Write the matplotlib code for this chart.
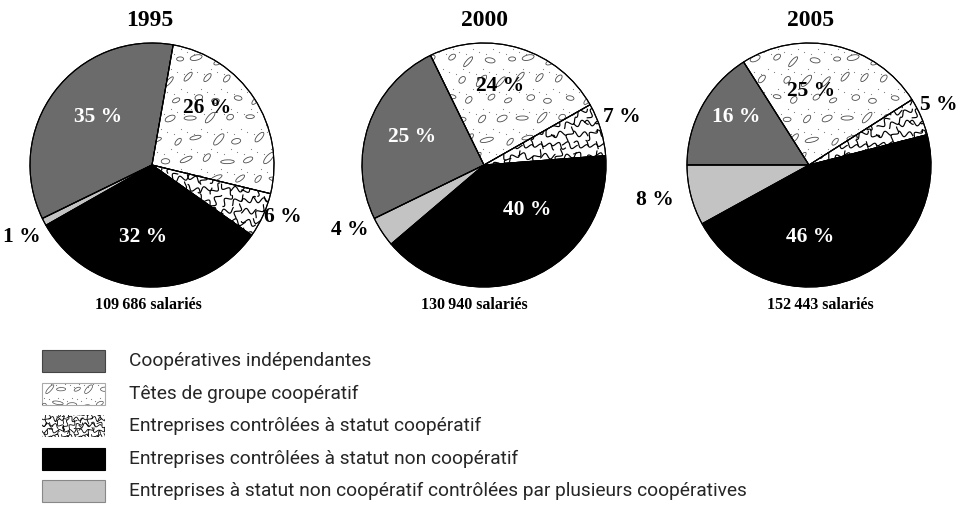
import numpy as np
import matplotlib
matplotlib.use("Agg")
import matplotlib.pyplot as plt
from matplotlib.patches import Ellipse, Polygon, Wedge
from matplotlib.collections import PatchCollection, LineCollection

# ---------------- data ----------------
years = ["1995", "2000", "2005"]
totals = ["109\u2009686 salariés", "130\u2009940 salariés", "152\u2009443 salariés"]
categories = [
    "Coopératives indépendantes",
    "Têtes de groupe coopératif",
    "Entreprises contrôlées à statut coopératif",
    "Entreprises contrôlées à statut non coopératif",
    "Entreprises à statut non coopératif contrôlées par plusieurs coopératives",
]
shares_1995 = [35, 26, 6, 32, 1]
shares_2000 = [25, 24, 7, 40, 4]
shares_2005 = [16, 25, 5, 46, 8]
shares = [shares_1995, shares_2000, shares_2005]

# ---------------- layout / style ----------------
W, H = 966, 505
R = 122
centers = [(152, 165), (484, 165), (809, 165)]
startangles = [206, 206, 180]
title_x = [150, 485, 811]
total_x = [148, 474, 820]
# label positions in units of the radius (x right, y up), per pie, per category
label_pos = [
    [(-0.44, 0.39), (0.45, 0.47), (1.07, -0.43), (-0.07, -0.59), (-1.07, -0.59)],
    [(-0.59, 0.23), (0.13, 0.65), (1.13, 0.39), (0.35, -0.37), (-1.10, -0.53)],
    [(-0.60, 0.39), (0.02, 0.61), (1.06, 0.49), (0.01, -0.59), (-1.26, -0.29)],
]
colors = ["#6b6b6b", "white", "white", "black", "#c3c3c3"]
label_colors = ["white", "black", "black", "white", "black"]
SERIF = "Liberation Serif"

fig = plt.figure(figsize=(W / 100, H / 100), dpi=100)


def hashf(a, b, m):
    return ((a * 7919 + b * 104729 + a * b * 31) % m) / m


def ellipse_pattern(ax, clip, x0, x1, y0, y1, s, zorder=2, step=20, lw=0.6, margin=0.0, scale=1.0):
    ells, dots = [], []
    ys = np.arange(y0 + margin, y1 - margin + 1e-9, step * s)
    xs = np.arange(x0 + margin, x1 - margin + 1e-9, step * s)
    for r_, y in enumerate(ys):
        for c_, x in enumerate(xs):
            off = step * s * 0.5 if r_ % 2 else 0.0
            h = hashf(r_, c_, 11)
            g = hashf(c_ + 3, r_ + 5, 7)
            jx = (hashf(r_ + 1, c_ + 2, 9) - 0.5) * 6 * s * scale
            jy = (hashf(r_ + 4, c_ + 1, 13) - 0.5) * 6 * s * scale
            w = (7 + 8 * h) * s * scale
            hh = (3.8 + 2.0 * g) * s * scale
            ang = -10 + 70 * hashf(r_ + 2, c_ + 7, 6)
            cx_, cy_ = x + off + jx, y + jy
            ells.append(Ellipse((cx_, cy_), w, hh, angle=ang))
            for dd in range(3):
                dots.append((x + off + step * s * (0.15 + 0.33 * dd),
                             y + step * s * (0.5 - 0.12 * dd)))
    pc = PatchCollection(ells, facecolor="none", edgecolor="#4a4a4a", linewidth=lw, zorder=zorder)
    pc.set_clip_path(clip)
    ax.add_collection(pc)
    dots = np.array(dots)
    sc = ax.scatter(dots[:, 0], dots[:, 1], s=0.7, color="#7a7a7a", linewidths=0, zorder=zorder)
    sc.set_clip_path(clip)


def wave_pattern(ax, clip, x0, x1, y0, y1, s, zorder=2, step=11, lw=0.85, margin=0.0, scale=1.0):
    segs = []
    t = np.linspace(0, 1, 30)
    L = 15.0 * scale
    ys = np.arange(y0 + margin - step * s, y1 - margin + step * s, step * s)
    xs = np.arange(x0 + margin - step * s, x1 - margin + step * s, step * s)
    for r_, y in enumerate(ys):
        for c_, x in enumerate(xs):
            ang = np.deg2rad(-35 + 110 * hashf(r_ + 3, c_ + 1, 7))
            ph = 2 * np.pi * hashf(c_ + 5, r_ + 2, 5)
            u = (t - 0.5) * L
            v = 2.6 * scale * np.sin(2 * np.pi * t * 1.4 + ph)
            px = x + s * (u * np.cos(ang) - v * np.sin(ang))
            py_ = y + s * (u * np.sin(ang) + v * np.cos(ang))
            segs.append(np.column_stack([px, py_]))
    lc = LineCollection(segs, colors="black", linewidths=lw, zorder=zorder)
    lc.set_clip_path(clip)
    ax.add_collection(lc)


k = 1.45
half = k * R
for i, (cx, cy) in enumerate(centers):
    ax = fig.add_axes([(cx - half) / W, (H - cy - half) / H, 2 * half / W, 2 * half / H])
    wedges, _ = ax.pie(shares[i], radius=1, center=(0, 0), startangle=startangles[i],
                       counterclock=False, colors=colors,
                       wedgeprops=dict(edgecolor="black", linewidth=0.8))
    ax.set_xlim(-k, k)
    ax.set_ylim(-k, k)
    ax.set_aspect("equal")
    ax.axis("off")
    s = 1.0 / R
    ellipse_pattern(ax, wedges[1], -1.1, 1.1, -1.1, 1.1, s)
    wave_pattern(ax, wedges[2], -1.1, 1.1, -1.1, 1.1, s)
    for w in wedges:
        ax.add_patch(Wedge((0, 0), 1, w.theta1, w.theta2, fill=False,
                           edgecolor="black", linewidth=0.8, zorder=3))
    for j, v in enumerate(shares[i]):
        lx, ly = label_pos[i][j]
        ax.text(lx, ly, f"{v} %", ha="center", va="center", fontsize=15.5,
                fontweight="bold", family=SERIF, color=label_colors[j], zorder=5)

# overlay axes in pixel units
ov = fig.add_axes([0, 0, 1, 1])
ov.set_xlim(0, W)
ov.set_ylim(0, H)
ov.axis("off")


def py(y):
    return H - y


for i in range(3):
    ov.text(title_x[i], py(20), years[i], ha="center", va="center", fontsize=17,
            fontweight="bold", family=SERIF, color="black")
    ov.text(total_x[i], py(305), totals[i], ha="center", va="center", fontsize=11.5,
            fontweight="bold", family=SERIF, color="black")

# legend
lx0, lw_, lh = 42, 63, 22
row0, rstep = 361, 32.5
edge_cols = ["#444444", "#aaaaaa", "white", "black", "#888888"]
for j, name in enumerate(categories):
    yc = py(row0 + rstep * j)
    xy = [(lx0, yc - lh / 2), (lx0 + lw_, yc - lh / 2),
          (lx0 + lw_, yc + lh / 2), (lx0, yc + lh / 2)]
    rect = Polygon(xy, closed=True, facecolor=colors[j],
                   edgecolor=edge_cols[j], linewidth=0.8, zorder=1)
    ov.add_patch(rect)
    if j == 1:
        ellipse_pattern(ov, rect, lx0, lx0 + lw_, yc - lh / 2, yc + lh / 2, 1.0,
                        step=14, lw=0.5, scale=0.8)
    if j == 2:
        wave_pattern(ov, rect, lx0, lx0 + lw_, yc - lh / 2, yc + lh / 2, 1.0,
                     step=6, lw=0.6, scale=0.7)
    ov.text(129, yc, name, ha="left", va="center", fontsize=13.8,
            family="Roboto", color="#262626")

fig.savefig("out.png", dpi=100)
